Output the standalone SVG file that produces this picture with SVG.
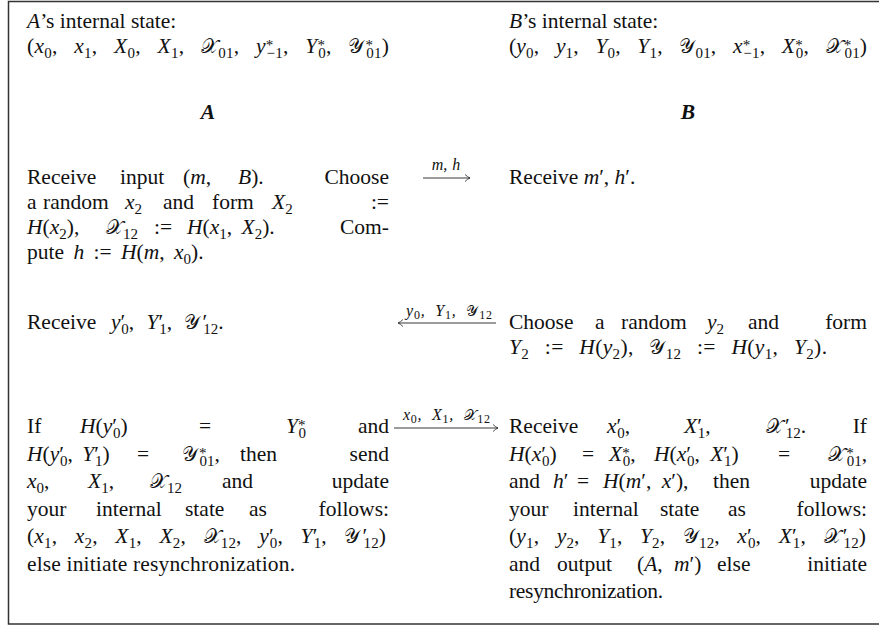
<svg xmlns="http://www.w3.org/2000/svg" width="879" height="628" viewBox="0 0 879 628">
<style>
.t{font-family:"Liberation Serif","Times New Roman",serif;font-size:21.5px;fill:#111}
.m{font-style:italic}
.sb{font-size:15px}
.k{font-family:"DejaVu Serif","DejaVu Sans",serif;font-style:normal;font-size:20px}
.b{font-weight:bold;font-style:italic}
.lab{font-family:"Liberation Serif","Times New Roman",serif;font-size:16px;font-style:italic;fill:#111}
.ls{font-size:12px;font-style:normal}
.lk{font-family:"DejaVu Serif","DejaVu Sans",serif;font-style:normal;font-size:15px}
.ar{stroke:#222;stroke-width:0.9;fill:none}
</style>
<defs>
<marker id="ah" markerWidth="10" markerHeight="10" refX="0" refY="0" viewBox="-7 -5 8 10" orient="auto" markerUnits="userSpaceOnUse">
<path d="M-5,-3.5 Q-2.2,-0.8 0,0 Q-2.2,0.8 -5,3.5" stroke="#222" stroke-width="0.8" fill="none"/>
</marker>
</defs>
<rect x="8.5" y="1.5" width="900" height="622.5" fill="#fff" stroke="#333" stroke-width="1.5"/>

<g id="a-state">
<text class="t" x="27" y="28"><tspan class="m">A</tspan>’s internal state:</text>
<text class="t" x="27" y="53" word-spacing="11" textLength="362" lengthAdjust="spacing">(<tspan class="m">x</tspan><tspan class="sb" dy="5">0</tspan><tspan dy="-5">, </tspan><tspan class="m">x</tspan><tspan class="sb" dy="5">1</tspan><tspan dy="-5">, </tspan><tspan class="m">X</tspan><tspan class="sb" dy="5">0</tspan><tspan dy="-5">, </tspan><tspan class="m">X</tspan><tspan class="sb" dy="5">1</tspan><tspan dy="-5">, </tspan><tspan class="k">𝒳</tspan><tspan class="sb" dy="5">01</tspan><tspan dy="-5">, </tspan><tspan class="m">y</tspan><tspan class="sb" dy="-3">*</tspan><tspan class="sb" dx="-7" dy="8">−1</tspan><tspan dy="-5">, </tspan><tspan class="m">Y</tspan><tspan class="sb" dy="-3">*</tspan><tspan class="sb" dx="-7" dy="8">0</tspan><tspan dy="-5">, </tspan><tspan class="k">𝒴</tspan><tspan class="sb" dx="1" dy="-3">*</tspan><tspan class="sb" dx="-7" dy="8">01</tspan><tspan dy="-5">)</tspan></text>
</g>

<g id="b-state">
<text class="t" x="509" y="28"><tspan class="m">B</tspan>’s internal state:</text>
<text class="t" x="509" y="53" word-spacing="11" textLength="358" lengthAdjust="spacing">(<tspan class="m">y</tspan><tspan class="sb" dy="5">0</tspan><tspan dy="-5">, </tspan><tspan class="m">y</tspan><tspan class="sb" dy="5">1</tspan><tspan dy="-5">, </tspan><tspan class="m">Y</tspan><tspan class="sb" dy="5">0</tspan><tspan dy="-5">, </tspan><tspan class="m">Y</tspan><tspan class="sb" dy="5">1</tspan><tspan dy="-5">, </tspan><tspan class="k">𝒴</tspan><tspan class="sb" dy="5">01</tspan><tspan dy="-5">, </tspan><tspan class="m">x</tspan><tspan class="sb" dy="-3">*</tspan><tspan class="sb" dx="-7" dy="8">−1</tspan><tspan dy="-5">, </tspan><tspan class="m">X</tspan><tspan class="sb" dy="-3">*</tspan><tspan class="sb" dx="-7" dy="8">0</tspan><tspan dy="-5">, </tspan><tspan class="k">𝒳</tspan><tspan class="sb" dx="1" dy="-3">*</tspan><tspan class="sb" dx="-7" dy="8">01</tspan><tspan dy="-5">)</tspan></text>
</g>

<g id="a-head"><text class="t b" x="208" y="119" text-anchor="middle">A</text></g>
<g id="b-head"><text class="t b" x="688" y="119" text-anchor="middle">B</text></g>

<g id="a-step1">
<text class="t" x="27" y="184">Receive</text>
<text class="t" x="120" y="184">input</text>
<text class="t" x="183" y="184">(<tspan class="m">m</tspan>,</text>
<text class="t" x="238" y="184"><tspan class="m">B</tspan>).</text>
<text class="t" x="389" y="184" text-anchor="end">Choose</text>
<text class="t" x="27" y="209">a</text>
<text class="t" x="43" y="209">random</text>
<text class="t" x="125" y="209"><tspan class="m">x</tspan><tspan class="sb" dy="5">2</tspan></text>
<text class="t" x="163" y="209">and</text>
<text class="t" x="212" y="209">form</text>
<text class="t" x="272" y="209"><tspan class="m">X</tspan><tspan class="sb" dy="5">2</tspan></text>
<text class="t" x="389" y="209" text-anchor="end">:=</text>
<text class="t" x="27" y="234" word-spacing="3"><tspan class="m">H</tspan>(<tspan class="m">x</tspan><tspan class="sb" dy="5">2</tspan><tspan dy="-5">),</tspan></text>
<text class="t" x="106" y="234"><tspan class="k">𝒳</tspan><tspan class="sb" dy="5">12</tspan></text>
<text class="t" x="154" y="234">:=</text>
<text class="t" x="187" y="234" word-spacing="4"><tspan class="m">H</tspan>(<tspan class="m">x</tspan><tspan class="sb" dy="5">1</tspan><tspan dy="-5">, </tspan><tspan class="m">X</tspan><tspan class="sb" dy="5">2</tspan><tspan dy="-5">).</tspan></text>
<text class="t" x="389" y="234" text-anchor="end">Com-</text>
<text class="t" x="27" y="259" word-spacing="4">pute <tspan class="m">h</tspan> := <tspan class="m">H</tspan>(<tspan class="m">m</tspan>, <tspan class="m">x</tspan><tspan class="sb" dy="5">0</tspan><tspan dy="-5">).</tspan></text>
</g>

<g id="b-step1">
<text class="t" x="509" y="184">Receive <tspan class="m">m</tspan>′, <tspan class="m">h</tspan>′.</text>
</g>

<g id="a-step2">
<text class="t" x="27" y="329">Receive</text>
<text class="t" x="111" y="329" word-spacing="7"><tspan class="m">y</tspan>′<tspan class="sb" dx="-4" dy="5">0</tspan><tspan dy="-5">, </tspan><tspan class="m">Y</tspan>′<tspan class="sb" dx="-4" dy="5">1</tspan><tspan dy="-5">, </tspan><tspan class="k">𝒴</tspan><tspan dx="2">′</tspan><tspan class="sb" dx="-4" dy="5">12</tspan><tspan dy="-5">.</tspan></text>
</g>

<g id="b-step2">
<text class="t" x="509" y="329">Choose</text>
<text class="t" x="595" y="329">a</text>
<text class="t" x="621" y="329">random</text>
<text class="t" x="707" y="329"><tspan class="m">y</tspan><tspan class="sb" dy="5">2</tspan></text>
<text class="t" x="748" y="329">and</text>
<text class="t" x="867" y="329" text-anchor="end">form</text>
<text class="t" x="509" y="354" word-spacing="10" textLength="318" lengthAdjust="spacing"><tspan class="m">Y</tspan><tspan class="sb" dy="5">2</tspan><tspan dy="-5"> := </tspan><tspan class="m">H</tspan>(<tspan class="m">y</tspan><tspan class="sb" dy="5">2</tspan><tspan dy="-5">), </tspan><tspan class="k">𝒴</tspan><tspan class="sb" dy="5">12</tspan><tspan dy="-5"> := </tspan><tspan class="m">H</tspan>(<tspan class="m">y</tspan><tspan class="sb" dy="5">1</tspan><tspan dy="-5">, </tspan><tspan class="m">Y</tspan><tspan class="sb" dy="5">2</tspan><tspan dy="-5">).</tspan></text>
</g>

<g id="a-step3">
<text class="t" x="27" y="433">If</text>
<text class="t" x="80" y="433"><tspan class="m">H</tspan>(<tspan class="m">y</tspan>′<tspan class="sb" dx="-4" dy="5">0</tspan><tspan dy="-5">)</tspan></text>
<text class="t" x="199" y="433">=</text>
<text class="t" x="286" y="433"><tspan class="m">Y</tspan><tspan class="sb" dy="-3">*</tspan><tspan class="sb" dx="-7" dy="8">0</tspan></text>
<text class="t" x="389" y="433" text-anchor="end">and</text>
<text class="t" x="27" y="460.5" word-spacing="4"><tspan class="m">H</tspan>(<tspan class="m">y</tspan>′<tspan class="sb" dx="-4" dy="5">0</tspan><tspan dy="-5">, </tspan><tspan class="m">Y</tspan>′<tspan class="sb" dx="-4" dy="5">1</tspan><tspan dy="-5">)</tspan></text>
<text class="t" x="137" y="460.5">=</text>
<text class="t" x="182" y="460.5"><tspan class="k">𝒴</tspan><tspan class="sb" dx="1" dy="-3">*</tspan><tspan class="sb" dx="-7" dy="8">01</tspan><tspan dy="-5">,</tspan></text>
<text class="t" x="240" y="460.5">then</text>
<text class="t" x="389" y="460.5" text-anchor="end">send</text>
<text class="t" x="27" y="488"><tspan class="m">x</tspan><tspan class="sb" dy="5">0</tspan><tspan dy="-5">,</tspan></text>
<text class="t" x="88" y="488"><tspan class="m">X</tspan><tspan class="sb" dy="5">1</tspan><tspan dy="-5">,</tspan></text>
<text class="t" x="150" y="488"><tspan class="k">𝒳</tspan><tspan class="sb" dy="5">12</tspan></text>
<text class="t" x="222" y="488">and</text>
<text class="t" x="389" y="488" text-anchor="end">update</text>
<text class="t" x="27" y="515.5">your</text>
<text class="t" x="96" y="515.5">internal</text>
<text class="t" x="185" y="515.5">state</text>
<text class="t" x="249" y="515.5">as</text>
<text class="t" x="389" y="515.5" text-anchor="end">follows:</text>
<text class="t" x="27" y="543" word-spacing="12" textLength="359" lengthAdjust="spacing">(<tspan class="m">x</tspan><tspan class="sb" dy="5">1</tspan><tspan dy="-5">, </tspan><tspan class="m">x</tspan><tspan class="sb" dy="5">2</tspan><tspan dy="-5">, </tspan><tspan class="m">X</tspan><tspan class="sb" dy="5">1</tspan><tspan dy="-5">, </tspan><tspan class="m">X</tspan><tspan class="sb" dy="5">2</tspan><tspan dy="-5">, </tspan><tspan class="k">𝒳</tspan><tspan class="sb" dy="5">12</tspan><tspan dy="-5">, </tspan><tspan class="m">y</tspan>′<tspan class="sb" dx="-4" dy="5">0</tspan><tspan dy="-5">, </tspan><tspan class="m">Y</tspan>′<tspan class="sb" dx="-4" dy="5">1</tspan><tspan dy="-5">, </tspan><tspan class="k">𝒴</tspan><tspan dx="2">′</tspan><tspan class="sb" dx="-4" dy="5">12</tspan><tspan dy="-5">)</tspan></text>
<text class="t" x="27" y="570.5" textLength="268" lengthAdjust="spacing">else initiate resynchronization.</text>
</g>

<g id="b-step3">
<text class="t" x="509" y="433">Receive</text>
<text class="t" x="607" y="433"><tspan class="m">x</tspan>′<tspan class="sb" dx="-4" dy="5">0</tspan><tspan dy="-5">,</tspan></text>
<text class="t" x="684" y="433"><tspan class="m">X</tspan>′<tspan class="sb" dx="-4" dy="5">1</tspan><tspan dy="-5">,</tspan></text>
<text class="t" x="766" y="433"><tspan class="k">𝒳</tspan><tspan dx="2">′</tspan><tspan class="sb" dx="-4" dy="5">12</tspan><tspan dy="-5">.</tspan></text>
<text class="t" x="867" y="433" text-anchor="end">If</text>
<text class="t" x="509" y="460.5"><tspan class="m">H</tspan>(<tspan class="m">x</tspan>′<tspan class="sb" dx="-4" dy="5">0</tspan><tspan dy="-5">)</tspan></text>
<text class="t" x="582" y="460.5">=</text>
<text class="t" x="609" y="460.5"><tspan class="m">X</tspan><tspan class="sb" dy="-3">*</tspan><tspan class="sb" dx="-7" dy="8">0</tspan><tspan dy="-5">,</tspan></text>
<text class="t" x="654" y="460.5" word-spacing="5"><tspan class="m">H</tspan>(<tspan class="m">x</tspan>′<tspan class="sb" dx="-4" dy="5">0</tspan><tspan dy="-5">, </tspan><tspan class="m">X</tspan>′<tspan class="sb" dx="-4" dy="5">1</tspan><tspan dy="-5">)</tspan></text>
<text class="t" x="778" y="460.5">=</text>
<text class="t" x="867" y="460.5" text-anchor="end"><tspan class="k">𝒳</tspan><tspan class="sb" dx="1" dy="-3">*</tspan><tspan class="sb" dx="-7" dy="8">01</tspan><tspan dy="-5">,</tspan></text>
<text class="t" x="509" y="488">and</text>
<text class="t" x="553" y="488"><tspan class="m">h</tspan>′</text>
<text class="t" x="577" y="488">=</text>
<text class="t" x="603" y="488" word-spacing="5"><tspan class="m">H</tspan>(<tspan class="m">m</tspan>′, <tspan class="m">x</tspan>′),</text>
<text class="t" x="713" y="488">then</text>
<text class="t" x="867" y="488" text-anchor="end">update</text>
<text class="t" x="509" y="515.5">your</text>
<text class="t" x="573" y="515.5">internal</text>
<text class="t" x="660" y="515.5">state</text>
<text class="t" x="728" y="515.5">as</text>
<text class="t" x="867" y="515.5" text-anchor="end">follows:</text>
<text class="t" x="509" y="543" word-spacing="12" textLength="357" lengthAdjust="spacing">(<tspan class="m">y</tspan><tspan class="sb" dy="5">1</tspan><tspan dy="-5">, </tspan><tspan class="m">y</tspan><tspan class="sb" dy="5">2</tspan><tspan dy="-5">, </tspan><tspan class="m">Y</tspan><tspan class="sb" dy="5">1</tspan><tspan dy="-5">, </tspan><tspan class="m">Y</tspan><tspan class="sb" dy="5">2</tspan><tspan dy="-5">, </tspan><tspan class="k">𝒴</tspan><tspan class="sb" dy="5">12</tspan><tspan dy="-5">, </tspan><tspan class="m">x</tspan>′<tspan class="sb" dx="-4" dy="5">0</tspan><tspan dy="-5">, </tspan><tspan class="m">X</tspan>′<tspan class="sb" dx="-4" dy="5">1</tspan><tspan dy="-5">, </tspan><tspan class="k">𝒳</tspan><tspan dx="2">′</tspan><tspan class="sb" dx="-4" dy="5">12</tspan><tspan dy="-5">)</tspan></text>
<text class="t" x="509" y="570.5">and</text>
<text class="t" x="557" y="570.5">output</text>
<text class="t" x="637" y="570.5">(<tspan class="m">A</tspan>,</text>
<text class="t" x="674" y="570.5"><tspan class="m">m</tspan>′)</text>
<text class="t" x="717" y="570.5">else</text>
<text class="t" x="867" y="570.5" text-anchor="end">initiate</text>
<text class="t" x="509" y="598" textLength="154" lengthAdjust="spacing">resynchronization.</text>
</g>

<g id="connectors">
<line class="ar" x1="423" y1="178" x2="470" y2="178" marker-end="url(#ah)"/>
<text class="lab" x="446" y="170" text-anchor="middle" word-spacing="1">m, h</text>
<line class="ar" x1="496" y1="323" x2="398" y2="323" marker-end="url(#ah)"/>
<text class="lab" x="449" y="316" text-anchor="middle" word-spacing="5" textLength="86" lengthAdjust="spacing">y<tspan class="ls" dy="3">0</tspan><tspan dy="-3">, Y</tspan><tspan class="ls" dy="3">1</tspan><tspan dy="-3">, </tspan><tspan class="lk">𝒴</tspan><tspan class="ls" dy="3">12</tspan></text>
<line class="ar" x1="394" y1="428" x2="498" y2="428" marker-end="url(#ah)"/>
<text class="lab" x="446.5" y="420" text-anchor="middle" word-spacing="5" textLength="87" lengthAdjust="spacing">x<tspan class="ls" dy="3">0</tspan><tspan dy="-3">, X</tspan><tspan class="ls" dy="3">1</tspan><tspan dy="-3">, </tspan><tspan class="lk">𝒳</tspan><tspan class="ls" dy="3">12</tspan></text>
</g>
</svg>
